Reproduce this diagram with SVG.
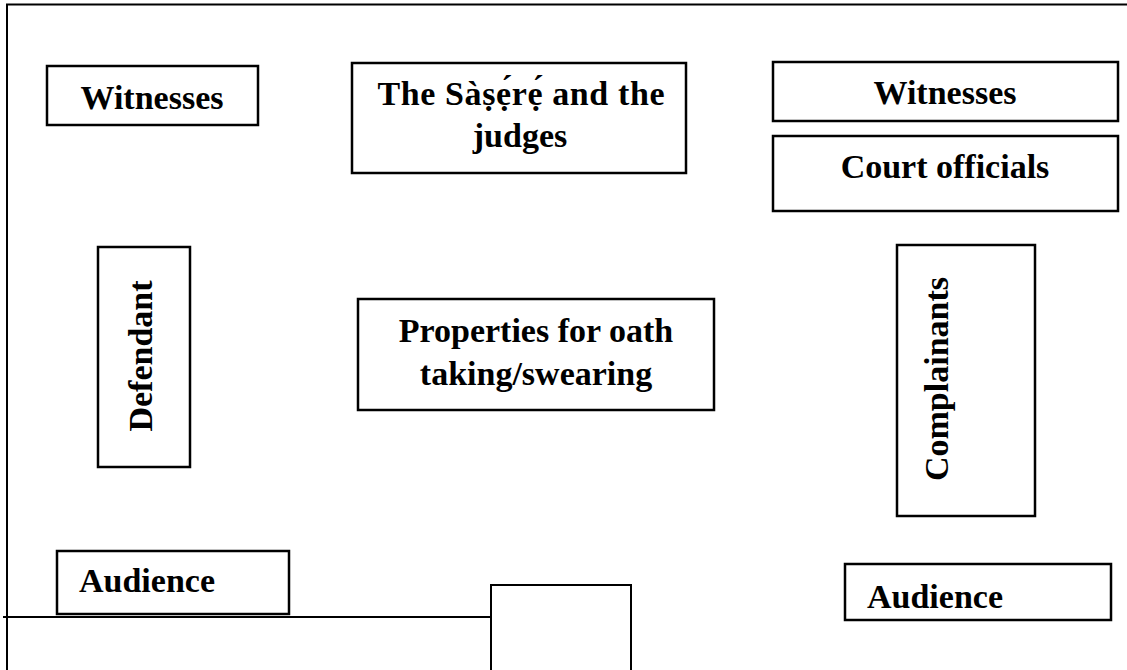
<svg xmlns="http://www.w3.org/2000/svg" width="1127" height="670" viewBox="0 0 1127 670">
<style>
.box{fill:#fff;stroke:#000;stroke-width:2.5}
.ln{stroke:#000;stroke-width:2;fill:none}
text{font-family:"Liberation Serif","Times New Roman",serif;font-weight:bold;font-size:34px;fill:#000}
.c{text-anchor:middle}
</style>
<rect width="1127" height="670" fill="#fff"/>
<g id="walls">
<path class="ln" d="M6 4.5H1127M7 4V670M3 617H491M491 670V585H631V670"/>
</g>
<g id="witnesses-left"><rect class="box" x="47" y="66" width="211" height="59"/><text class="c" x="152" y="109">Witnesses</text></g>
<g id="sasere"><rect class="box" x="352" y="63" width="334" height="110"/><text class="c" x="521" y="105" textLength="287" lengthAdjust="spacing">The Sàṣẹ́rẹ́ and the</text><text class="c" x="520" y="147">judges</text></g>
<g id="witnesses-right"><rect class="box" x="773" y="62" width="345" height="59"/><text class="c" x="945" y="104">Witnesses</text></g>
<g id="court-officials"><rect class="box" x="773" y="136" width="345" height="75"/><text class="c" x="945" y="178">Court officials</text></g>
<g id="defendant"><rect class="box" x="98" y="247" width="92" height="220"/><text class="c" transform="translate(152,356) rotate(-90)">Defendant</text></g>
<g id="properties"><rect class="box" x="358" y="299" width="356" height="111"/><text class="c" x="536" y="342">Properties for oath</text><text class="c" x="536" y="385">taking/swearing</text></g>
<g id="complainants"><rect class="box" x="897" y="245" width="138" height="271"/><text class="c" transform="translate(948,379) rotate(-90)">Complainants</text></g>
<g id="audience-left"><rect class="box" x="57" y="551" width="232" height="63"/><text x="79" y="592">Audience</text></g>
<g id="audience-right"><rect class="box" x="845" y="564" width="266" height="56"/><text x="867" y="608">Audience</text></g>
<g id="connectors"></g>
</svg>
